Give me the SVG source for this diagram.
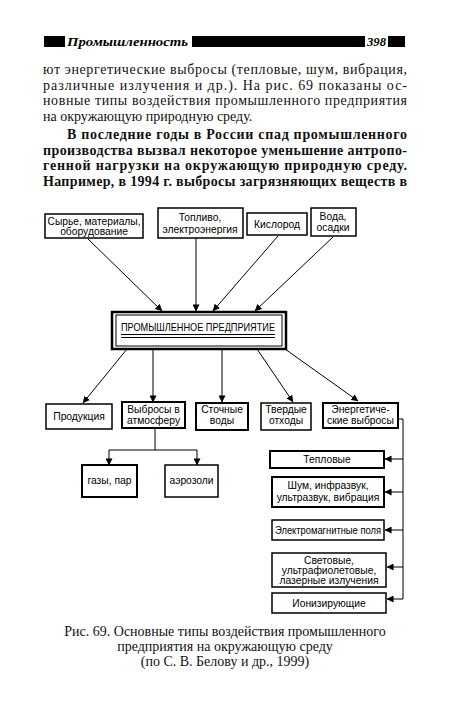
<svg xmlns="http://www.w3.org/2000/svg" width="450" height="707" viewBox="0 0 450 707">
<style>
.bg{fill:#fff}
.hdr{font-family:"Liberation Serif",serif;font-style:italic;font-weight:bold;font-size:13px;fill:#000}
.body{font-family:"Liberation Serif",serif;font-size:14px;fill:#111}
.bodyb{font-family:"Liberation Serif",serif;font-size:14px;font-weight:bold;fill:#111}
.cap{font-family:"Liberation Serif",serif;font-size:14px;fill:#111;text-anchor:middle}
.box{fill:#fff;stroke:#000;stroke-width:1.5}
.boxt{fill:#fff;stroke:#000;stroke-width:2}
.lbl{font-family:"Liberation Sans",Arial,sans-serif;font-size:10.3px;fill:#000;text-anchor:middle}
.con{fill:none;stroke:#000;stroke-width:1}
</style>
<defs>
<marker id="ah" viewBox="0 0 8 8" refX="7.5" refY="4" markerWidth="7" markerHeight="7" markerUnits="userSpaceOnUse" orient="auto">
<path d="M0,0 L8,4 L0,8 Z" fill="#000"/>
</marker>
</defs>
<rect class="bg" x="0" y="0" width="450" height="707"/>

<g id="header">
<rect x="44" y="36" width="21" height="11" fill="#000"/>
<text class="hdr" x="67" y="46" textLength="121" lengthAdjust="spacingAndGlyphs">Промышленность</text>
<rect x="192" y="36" width="173" height="11" fill="#000"/>
<text class="hdr" x="367" y="46" textLength="19" lengthAdjust="spacingAndGlyphs">398</text>
<rect x="388" y="36" width="17" height="11" fill="#000"/>
</g>

<g id="body-text">
<text class="body" x="43" y="74" textLength="364" lengthAdjust="spacing">ют энергетические выбросы (тепловые, шум, вибрация,</text>
<text class="body" x="43" y="90" textLength="364" lengthAdjust="spacing">различные излучения и др.). На рис. 69 показаны ос-</text>
<text class="body" x="43" y="105" textLength="364" lengthAdjust="spacing">новные типы воздействия промышленного предприятия</text>
<text class="body" x="43" y="121">на окружающую природную среду.</text>
<text class="bodyb" x="67" y="139" textLength="340" lengthAdjust="spacing">В последние годы в России спад промышленного</text>
<text class="bodyb" x="43" y="155" textLength="364" lengthAdjust="spacing">производства вызвал некоторое уменьшение антропо-</text>
<text class="bodyb" x="43" y="170" textLength="364" lengthAdjust="spacing">генной нагрузки на окружающую природную среду.</text>
<text class="bodyb" x="43" y="186" textLength="364" lengthAdjust="spacing">Например, в 1994 г. выбросы загрязняющих веществ в</text>
</g>

<g id="connectors">
<line class="con" x1="88" y1="239" x2="162" y2="311" marker-end="url(#ah)"/>
<line class="con" x1="196" y1="238" x2="196" y2="311" marker-end="url(#ah)"/>
<line class="con" x1="278" y1="236" x2="213" y2="311" marker-end="url(#ah)"/>
<line class="con" x1="333" y1="237" x2="255" y2="311" marker-end="url(#ah)"/>
<line class="con" x1="127" y1="349" x2="83" y2="403" marker-end="url(#ah)"/>
<line class="con" x1="153" y1="349" x2="153" y2="402" marker-end="url(#ah)"/>
<line class="con" x1="222" y1="349" x2="222" y2="402" marker-end="url(#ah)"/>
<line class="con" x1="257" y1="349" x2="293" y2="402" marker-end="url(#ah)"/>
<line class="con" x1="285" y1="349" x2="358" y2="401" marker-end="url(#ah)"/>
<polyline class="con" points="155,428 155,450"/>
<polyline class="con" points="109,450 197,450"/>
<line class="con" x1="109" y1="450" x2="109" y2="465" marker-end="url(#ah)"/>
<line class="con" x1="197" y1="450" x2="197" y2="465" marker-end="url(#ah)"/>
<polyline class="con" points="398,419 403,419 403,599"/>
<line class="con" x1="403" y1="459" x2="385" y2="459" marker-end="url(#ah)"/>
<line class="con" x1="403" y1="492" x2="385" y2="492" marker-end="url(#ah)"/>
<line class="con" x1="403" y1="530" x2="385" y2="530" marker-end="url(#ah)"/>
<line class="con" x1="403" y1="567" x2="387" y2="567" marker-end="url(#ah)"/>
<line class="con" x1="403" y1="599" x2="387" y2="599" marker-end="url(#ah)"/>
</g>

<g id="n-raw">
<rect class="box" x="45" y="214" width="98" height="24"/>
<text class="lbl" x="94" y="224.5" textLength="93" lengthAdjust="spacingAndGlyphs">Сырье, материалы,</text>
<text class="lbl" x="94" y="235">оборудование</text>
</g>
<g id="n-fuel">
<rect class="box" x="158" y="208" width="85" height="30"/>
<text class="lbl" x="200" y="221">Топливо,</text>
<text class="lbl" x="200" y="233">электроэнергия</text>
</g>
<g id="n-oxygen">
<rect class="box" x="247" y="213" width="60" height="22"/>
<text class="lbl" x="277" y="228">Кислород</text>
</g>
<g id="n-water">
<rect class="box" x="311" y="208" width="45" height="28"/>
<text class="lbl" x="333" y="220">Вода,</text>
<text class="lbl" x="333" y="231">осадки</text>
</g>

<g id="n-enterprise">
<rect x="112" y="312" width="174" height="37" fill="#fff" stroke="#000" stroke-width="2.5"/>
<rect x="116" y="315" width="166" height="31" fill="none" stroke="#000" stroke-width="1"/>
<text class="lbl" x="198" y="331" textLength="154" lengthAdjust="spacingAndGlyphs">ПРОМЫШЛЕННОЕ ПРЕДПРИЯТИЕ</text>
<line x1="121" y1="334.5" x2="275" y2="334.5" stroke="#000" stroke-width="1"/>
<line x1="121" y1="337.5" x2="275" y2="337.5" stroke="#000" stroke-width="1"/>
</g>

<g id="n-product">
<rect class="box" x="46" y="404" width="66" height="25"/>
<text class="lbl" x="79" y="420">Продукция</text>
</g>
<g id="n-air">
<rect class="boxt" x="122" y="402" width="63" height="26"/>
<text class="lbl" x="153.5" y="413">Выбросы в</text>
<text class="lbl" x="153.5" y="424">атмосферу</text>
</g>
<g id="n-wastewater">
<rect class="boxt" x="196" y="403" width="52" height="27"/>
<text class="lbl" x="222" y="413">Сточные</text>
<text class="lbl" x="222" y="424">воды</text>
</g>
<g id="n-solid">
<rect class="box" x="261" y="403" width="50" height="27"/>
<text class="lbl" x="286" y="413">Твердые</text>
<text class="lbl" x="286" y="424">отходы</text>
</g>
<g id="n-energy">
<rect class="boxt" x="323" y="403" width="75" height="25"/>
<text class="lbl" x="360.5" y="413">Энергетиче-</text>
<text class="lbl" x="360.5" y="424">ские выбросы</text>
</g>

<g id="n-gas">
<rect class="boxt" x="82" y="465" width="55" height="32"/>
<text class="lbl" x="109.5" y="484">газы, пар</text>
</g>
<g id="n-aerosol">
<rect class="box" x="165" y="465" width="53" height="32"/>
<text class="lbl" x="191.5" y="484">аэрозоли</text>
</g>

<g id="n-thermal">
<rect class="boxt" x="270" y="451" width="114" height="17"/>
<text class="lbl" x="327" y="463">Тепловые</text>
</g>
<g id="n-noise">
<rect class="boxt" x="272" y="477" width="112" height="30"/>
<text class="lbl" x="328" y="489">Шум, инфразвук,</text>
<text class="lbl" x="328" y="501">ультразвук, вибрация</text>
</g>
<g id="n-em">
<rect class="box" x="272" y="520" width="112" height="20"/>
<text class="lbl" x="328" y="534" textLength="106" lengthAdjust="spacingAndGlyphs">Электромагнитные поля</text>
</g>
<g id="n-light">
<rect class="box" x="272" y="553" width="114" height="34"/>
<text class="lbl" x="329" y="564">Световые,</text>
<text class="lbl" x="329" y="574">ультрафиолетовые,</text>
<text class="lbl" x="329" y="584">лазерные излучения</text>
</g>
<g id="n-ion">
<rect class="box" x="272" y="593" width="114" height="20"/>
<text class="lbl" x="329" y="607">Ионизирующие</text>
</g>

<g id="caption">
<text class="cap" x="225" y="636">Рис. 69. Основные типы воздействия промышленного</text>
<text class="cap" x="225" y="651">предприятия на окружающую среду</text>
<text class="cap" x="225" y="666">(по С. В. Белову и др., 1999)</text>
</g>
</svg>
